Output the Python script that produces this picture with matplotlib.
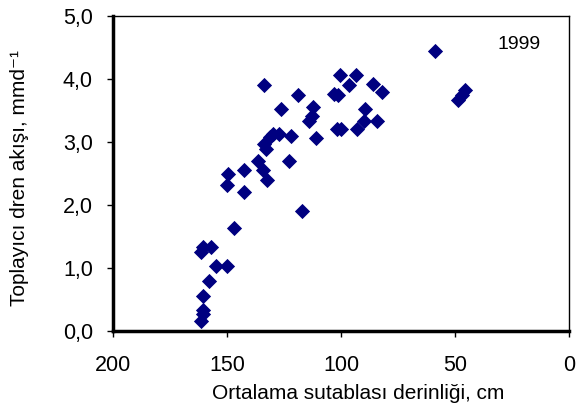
import matplotlib

matplotlib.use("Agg")
import matplotlib.pyplot as plt
from matplotlib.ticker import FuncFormatter

# depth of water table (cm) vs collector drain discharge (mm/d), 1999
depth = [161.2, 160.7, 160.7, 160.7, 158.0, 161.2, 160.7, 157.2, 155.0, 150.2,
         147.0, 150.2, 149.4, 142.6, 142.6, 136.2, 134.3, 132.6, 133.8, 133.8,
         133.0, 131.3, 129.7, 127.3, 126.2, 122.8, 122.1, 118.7, 117.1, 113.9,
         112.8, 112.3, 111.1, 103.1, 101.5, 100.6, 101.9, 99.8, 96.6, 93.4,
         92.9, 89.3, 90.1, 85.8, 84.2, 82.1, 58.6, 48.5, 45.4, 47.0]
discharge = [0.16, 0.27, 0.33, 0.56, 0.80, 1.25, 1.34, 1.33, 1.03, 1.03,
             1.64, 2.32, 2.49, 2.55, 2.20, 2.70, 2.55, 2.40, 3.91, 2.97,
             2.89, 3.08, 3.13, 3.13, 3.53, 2.70, 3.10, 3.75, 1.91, 3.34,
             3.42, 3.56, 3.06, 3.76, 3.74, 4.07, 3.21, 3.21, 3.90, 4.06,
             3.21, 3.53, 3.34, 3.92, 3.34, 3.79, 4.44, 3.67, 3.83, 3.75]

x_ticks = [200, 150, 100, 50, 0]
y_ticks = [0, 1, 2, 3, 4, 5]

plt.rcParams["font.family"] = ["Liberation Sans", "DejaVu Sans"]

fig = plt.figure(figsize=(5.78, 4.15), dpi=100)
ax = fig.add_axes([0.1955, 0.2024, 0.7889, 0.759])

ax.scatter(depth, discharge, marker="D", s=60, color="#000080", linewidths=0, zorder=3)

ax.set_xlim(200, 0)
ax.set_ylim(0, 5)
ax.set_xticks(x_ticks)
ax.set_yticks(y_ticks)
ax.yaxis.set_major_formatter(FuncFormatter(lambda v, p: f"{v:.1f}".replace(".", ",")))
ax.tick_params(axis="both", direction="out", length=4.5, width=1, labelsize=15.5, color="black")
ax.tick_params(axis="x", pad=13)
ax.tick_params(axis="y", pad=10)

for side in ["left", "bottom"]:
    ax.spines[side].set_linewidth(2.5)
for side in ["top", "right"]:
    ax.spines[side].set_linewidth(1)

ax.set_xlabel("Ortalama sutablası derinliği, cm", fontsize=15)
ax.xaxis.set_label_coords(0.537, -0.197)
ax.xaxis.label.set_va("center")
ax.set_ylabel("Toplayıcı dren akışı, mmd⁻¹", fontsize=15)
ax.yaxis.set_label_coords(-0.204, 0.485)
ax.yaxis.label.set_va("center")
ax.text(0.89, 0.911, "1999", transform=ax.transAxes, fontsize=14,
        ha="center", va="center")

fig.savefig("out.png", dpi=100)
